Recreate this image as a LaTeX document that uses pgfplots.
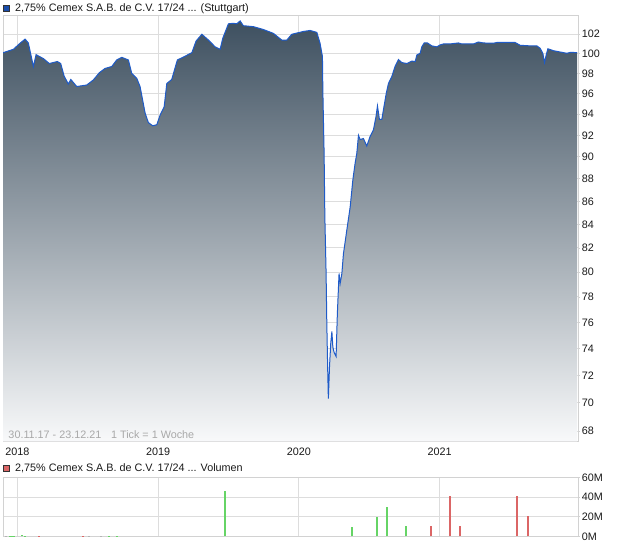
\documentclass[border=0pt]{standalone}
\usepackage{pgfplots}
\pgfplotsset{compat=1.18}
\usepackage{pgfplotstable}
\usepackage{fontspec}
\setmainfont{Liberation Sans}

\definecolor{gridc}{HTML}{DDDDDD}
\definecolor{framec}{HTML}{D2D2D2}
\definecolor{pline}{HTML}{1F5BC8}
\definecolor{ptop}{HTML}{3E5060}
\definecolor{pbot}{HTML}{F8F9FA}
\definecolor{vgreen}{HTML}{66D466}
\definecolor{vred}{HTML}{DB6666}
\definecolor{vgrey}{HTML}{B4B4B4}
\definecolor{datec}{HTML}{A8A8A8}

% weekly closing price (decimal year, price in %)
\pgfplotstableread{
year price
2017.899 100.10
2017.972 100.45
2018.019 101.07
2018.055 101.50
2018.078 101.10
2018.114 98.70
2018.133 99.90
2018.185 99.50
2018.227 99.00
2018.284 99.20
2018.308 99.00
2018.332 97.75
2018.362 96.95
2018.380 97.40
2018.422 96.70
2018.493 96.85
2018.540 97.35
2018.583 98.08
2018.623 98.50
2018.671 98.70
2018.706 99.36
2018.742 99.63
2018.789 99.36
2018.813 98.00
2018.849 97.50
2018.872 96.70
2018.908 94.10
2018.931 93.20
2018.962 92.90
2018.991 93.00
2019.014 93.90
2019.043 94.70
2019.062 97.00
2019.097 97.40
2019.137 99.36
2019.176 99.63
2019.240 100.10
2019.270 101.30
2019.311 102.00
2019.358 101.40
2019.405 100.70
2019.441 100.45
2019.460 101.60
2019.500 103.10
2019.535 103.15
2019.559 103.10
2019.583 103.40
2019.606 102.90
2019.677 102.80
2019.748 102.50
2019.819 102.10
2019.879 101.40
2019.915 101.40
2019.950 102.00
2020.033 102.30
2020.080 102.40
2020.128 102.20
2020.151 101.07
2020.168 99.70
2020.171 96.20
2020.180 90.20
2020.185 84.70
2020.194 79.90
2020.199 75.90
2020.206 72.10
2020.210 70.30
2020.218 72.60
2020.227 74.40
2020.235 75.30
2020.242 74.10
2020.251 73.70
2020.265 73.40
2020.274 76.70
2020.286 79.90
2020.294 79.10
2020.306 79.90
2020.317 81.50
2020.341 83.50
2020.365 85.50
2020.384 87.90
2020.400 89.40
2020.412 90.30
2020.424 92.00
2020.436 91.60
2020.459 91.70
2020.483 91.00
2020.507 91.90
2020.530 92.50
2020.549 93.80
2020.559 94.80
2020.573 93.50
2020.590 93.50
2020.601 94.40
2020.621 96.00
2020.637 97.00
2020.661 97.70
2020.684 98.70
2020.708 99.40
2020.732 99.10
2020.768 99.00
2020.803 99.25
2020.827 99.20
2020.839 99.87
2020.862 100.04
2020.874 100.70
2020.891 101.10
2020.914 101.10
2020.945 100.80
2020.981 100.70
2021.004 100.90
2021.028 101.00
2021.075 101.00
2021.134 101.10
2021.158 101.00
2021.241 101.00
2021.276 101.20
2021.312 101.10
2021.383 101.07
2021.407 101.15
2021.537 101.15
2021.573 100.86
2021.644 100.80
2021.692 100.80
2021.715 100.55
2021.734 100.04
2021.746 99.10
2021.758 99.87
2021.770 100.50
2021.810 100.30
2021.857 100.17
2021.905 100.04
2021.933 100.14
2021.978 100.10
}\price

% volume in millions
\pgfplotstableread{
year vol
2017.948 0.8
2017.960 0.8
2017.977 0.6
2018.031 1.5
2018.055 0.8
2018.652 0.8
2018.706 0.8
2019.476 46.0
2020.377 9.5
2020.557 19.7
2020.625 29.8
2020.763 10.5
}\volup

\pgfplotstableread{
year vol
2018.154 0.8
2018.469 0.8
2020.938 10.5
2021.075 41.0
2021.146 10.5
2021.552 41.0
2021.630 20.7
}\voldown

\pgfplotstableread{
year vol
2017.918 0.6
2018.512 0.6
2018.595 0.6
}\volflat

\pgfplotsset{
  chartbase/.style={
    scale only axis,
    anchor=north west,
    width=575pt,
    xmin=2017.898, xmax=2021.984,
    xtick={2018,2019,2020,2021},
    grid=major,
    major grid style={gridc, line width=0.9pt},
    axis line style={framec, line width=0.9pt},
    xtick style={draw=none},
    ytick pos=right,
    yticklabel pos=right,
    tick align=outside,
    major tick length=2pt,
    ytick style={framec, line width=0.8pt},
    tick label style={font=\fontsize{10.8}{12}\selectfont, text=black!90},
    yticklabel style={anchor=west, inner sep=0pt, xshift=1.6pt},
    /pgf/number format/assume math mode=true,
  },
}

\begin{document}
\begin{tikzpicture}
\path[use as bounding box] (0pt,0pt) rectangle (620pt,-546pt);

% price panel
\begin{axis}[chartbase,
    at={(3pt,-16pt)},
    height=425.3pt,
    ymode=log,
    log origin y=infty,
    ymin=67.31, ymax=103.93,
    ytick={68,70,72,74,76,78,80,82,84,86,88,90,92,94,96,98,100,102},
    yticklabels={68,70,72,74,76,78,80,82,84,86,88,90,92,94,96,98,100,102},
    xticklabels={2018,2019,2020,2021},
    xticklabel style={anchor=north, inner sep=0pt, yshift=-4.4pt},
  ]
\addplot[draw=none, top color=ptop, bottom color=pbot] table[x=year, y=price] {\price} \closedcycle;
\addplot[pline, line width=1pt] table[x=year, y=price] {\price};
\end{axis}

% volume panel
\begin{axis}[chartbase,
    at={(3pt,-477.3pt)},
    height=59pt,
    ymin=0, ymax=60,
    ytick={0,20,40,60},
    yticklabels={0M,20M,40M,60M},
    xticklabels={},
  ]
\addplot[ycomb, vgreen, line width=2pt] table[x=year, y=vol] {\volup};
\addplot[ycomb, vred, line width=2pt] table[x=year, y=vol] {\voldown};
\addplot[ycomb, vgrey, line width=2pt] table[x=year, y=vol] {\volflat};
\end{axis}

% legends and notes
\filldraw[fill=pline!85!black, draw=black!80, line width=0.6pt] (3.5pt,-5pt) rectangle (9.5pt,-11pt);
\node[anchor=base west, inner sep=0pt, font=\fontsize{10.8}{12}\selectfont, text=black!90]
  at (15pt,-11.8pt) {2,75\% Cemex S.A.B. de C.V. 17/24 ... (Stuttgart)};
\filldraw[fill=vred, draw=black!80, line width=0.6pt] (3.5pt,-465pt) rectangle (9.5pt,-471pt);
\node[anchor=base west, inner sep=0pt, font=\fontsize{10.8}{12}\selectfont, text=black!90]
  at (15pt,-471.6pt) {2,75\% Cemex S.A.B. de C.V. 17/24 ... Volumen};
\node[anchor=base west, inner sep=0pt, font=\fontsize{10.8}{12}\selectfont, text=datec]
  at (8.3pt,-438.3pt) {30.11.17 - 23.12.21\hspace{0.9em}1 Tick = 1 Woche};
\end{tikzpicture}
\end{document}
